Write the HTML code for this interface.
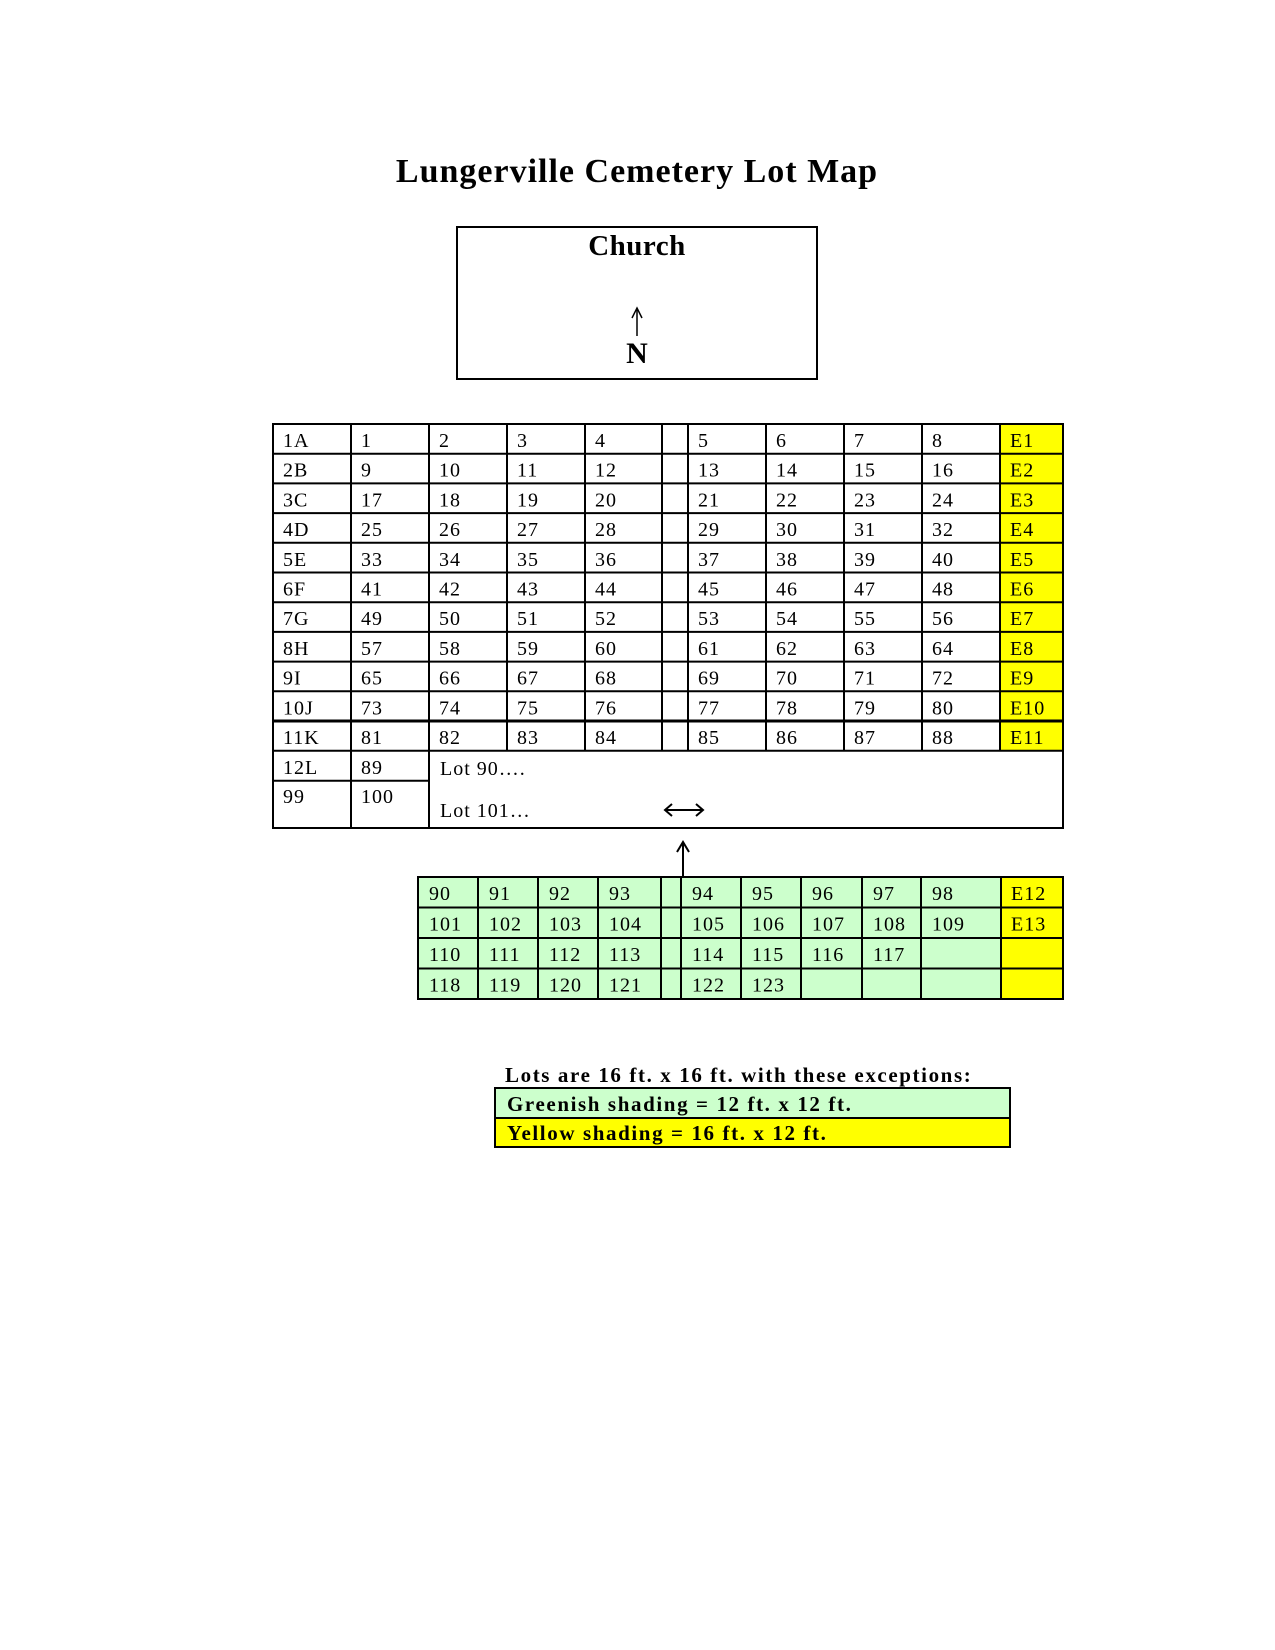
<!DOCTYPE html>
<html><head><meta charset="utf-8"><style>
html,body{margin:0;padding:0;background:#fff;}
svg{display:block;}
text{font-family:"Liberation Serif",serif;}
.t{font-size:20px;letter-spacing:1px;}
.b{font-weight:bold;}
</style></head><body>
<svg width="1275" height="1650" viewBox="0 0 1275 1650" xmlns="http://www.w3.org/2000/svg">
<text x="637" y="182" class="b" font-size="34" letter-spacing="1" text-anchor="middle">Lungerville Cemetery Lot Map</text>
<rect x="457" y="227" width="360" height="152" fill="none" stroke="#000" stroke-width="2"/>
<text x="637" y="255" class="b" font-size="29" letter-spacing="0.5" text-anchor="middle">Church</text>
<line x1="637" y1="310" x2="637" y2="336" stroke="#000" stroke-width="1.5"/>
<path d="M632 318 L637 308 L642 318" fill="none" stroke="#000" stroke-width="1.5"/>
<text x="637" y="363" class="b" font-size="30" text-anchor="middle">N</text>

<rect x="1000" y="424" width="63" height="326.7" fill="#ffff00"/>
<g stroke="#000" stroke-width="2" fill="none">
<rect x="273" y="424" width="790" height="404"/>
<line x1="273" y1="453.7" x2="1063" y2="453.7"/>
<line x1="273" y1="483.4" x2="1063" y2="483.4"/>
<line x1="273" y1="513.1" x2="1063" y2="513.1"/>
<line x1="273" y1="542.8" x2="1063" y2="542.8"/>
<line x1="273" y1="572.5" x2="1063" y2="572.5"/>
<line x1="273" y1="602.2" x2="1063" y2="602.2"/>
<line x1="273" y1="631.9" x2="1063" y2="631.9"/>
<line x1="273" y1="661.6" x2="1063" y2="661.6"/>
<line x1="273" y1="691.3" x2="1063" y2="691.3"/>
<line x1="273" y1="721" x2="1063" y2="721" stroke-width="3"/>
<line x1="273" y1="750.7" x2="1063" y2="750.7"/>
<line x1="273" y1="780.7" x2="429" y2="780.7"/>
<line x1="351" y1="424" x2="351" y2="828"/>
<line x1="429" y1="424" x2="429" y2="828"/>
<line x1="507" y1="424" x2="507" y2="750.7"/>
<line x1="585" y1="424" x2="585" y2="750.7"/>
<line x1="662" y1="424" x2="662" y2="750.7"/>
<line x1="688" y1="424" x2="688" y2="750.7"/>
<line x1="766" y1="424" x2="766" y2="750.7"/>
<line x1="844" y1="424" x2="844" y2="750.7"/>
<line x1="922" y1="424" x2="922" y2="750.7"/>
<line x1="1000" y1="424" x2="1000" y2="750.7"/>
</g>
<g class="t">
<text x="283" y="447">1A</text><text x="361" y="447">1</text><text x="439" y="447">2</text><text x="517" y="447">3</text><text x="595" y="447">4</text><text x="698" y="447">5</text><text x="776" y="447">6</text><text x="854" y="447">7</text><text x="932" y="447">8</text><text x="1010" y="447">E1</text>
<text x="283" y="476.7">2B</text><text x="361" y="476.7">9</text><text x="439" y="476.7">10</text><text x="517" y="476.7">11</text><text x="595" y="476.7">12</text><text x="698" y="476.7">13</text><text x="776" y="476.7">14</text><text x="854" y="476.7">15</text><text x="932" y="476.7">16</text><text x="1010" y="476.7">E2</text>
<text x="283" y="506.4">3C</text><text x="361" y="506.4">17</text><text x="439" y="506.4">18</text><text x="517" y="506.4">19</text><text x="595" y="506.4">20</text><text x="698" y="506.4">21</text><text x="776" y="506.4">22</text><text x="854" y="506.4">23</text><text x="932" y="506.4">24</text><text x="1010" y="506.4">E3</text>
<text x="283" y="536.1">4D</text><text x="361" y="536.1">25</text><text x="439" y="536.1">26</text><text x="517" y="536.1">27</text><text x="595" y="536.1">28</text><text x="698" y="536.1">29</text><text x="776" y="536.1">30</text><text x="854" y="536.1">31</text><text x="932" y="536.1">32</text><text x="1010" y="536.1">E4</text>
<text x="283" y="565.8">5E</text><text x="361" y="565.8">33</text><text x="439" y="565.8">34</text><text x="517" y="565.8">35</text><text x="595" y="565.8">36</text><text x="698" y="565.8">37</text><text x="776" y="565.8">38</text><text x="854" y="565.8">39</text><text x="932" y="565.8">40</text><text x="1010" y="565.8">E5</text>
<text x="283" y="595.5">6F</text><text x="361" y="595.5">41</text><text x="439" y="595.5">42</text><text x="517" y="595.5">43</text><text x="595" y="595.5">44</text><text x="698" y="595.5">45</text><text x="776" y="595.5">46</text><text x="854" y="595.5">47</text><text x="932" y="595.5">48</text><text x="1010" y="595.5">E6</text>
<text x="283" y="625.2">7G</text><text x="361" y="625.2">49</text><text x="439" y="625.2">50</text><text x="517" y="625.2">51</text><text x="595" y="625.2">52</text><text x="698" y="625.2">53</text><text x="776" y="625.2">54</text><text x="854" y="625.2">55</text><text x="932" y="625.2">56</text><text x="1010" y="625.2">E7</text>
<text x="283" y="654.9">8H</text><text x="361" y="654.9">57</text><text x="439" y="654.9">58</text><text x="517" y="654.9">59</text><text x="595" y="654.9">60</text><text x="698" y="654.9">61</text><text x="776" y="654.9">62</text><text x="854" y="654.9">63</text><text x="932" y="654.9">64</text><text x="1010" y="654.9">E8</text>
<text x="283" y="684.6">9I</text><text x="361" y="684.6">65</text><text x="439" y="684.6">66</text><text x="517" y="684.6">67</text><text x="595" y="684.6">68</text><text x="698" y="684.6">69</text><text x="776" y="684.6">70</text><text x="854" y="684.6">71</text><text x="932" y="684.6">72</text><text x="1010" y="684.6">E9</text>
<text x="283" y="714.3">10J</text><text x="361" y="714.3">73</text><text x="439" y="714.3">74</text><text x="517" y="714.3">75</text><text x="595" y="714.3">76</text><text x="698" y="714.3">77</text><text x="776" y="714.3">78</text><text x="854" y="714.3">79</text><text x="932" y="714.3">80</text><text x="1010" y="714.3">E10</text>
<text x="283" y="744">11K</text><text x="361" y="744">81</text><text x="439" y="744">82</text><text x="517" y="744">83</text><text x="595" y="744">84</text><text x="698" y="744">85</text><text x="776" y="744">86</text><text x="854" y="744">87</text><text x="932" y="744">88</text><text x="1010" y="744">E11</text>
<text x="283" y="774">12L</text><text x="361" y="774">89</text><text x="440" y="775">Lot 90….</text>
<text x="283" y="803">99</text><text x="361" y="803">100</text><text x="440" y="817">Lot 101…</text>
</g>
<g stroke="#000" stroke-width="2" fill="none">
<line x1="666" y1="810" x2="702" y2="810"/>
<path d="M672 804 L665 810 L672 816"/>
<path d="M696 804 L703 810 L696 816"/>
</g>
<line x1="683" y1="844" x2="683" y2="877" stroke="#000" stroke-width="2"/>
<path d="M677 852 L683 842 L689 852" fill="none" stroke="#000" stroke-width="2"/>

<rect x="418" y="877" width="583" height="122" fill="#ccffcc"/>
<rect x="1001" y="877" width="62" height="122" fill="#ffff00"/>
<g stroke="#000" stroke-width="2" fill="none">
<rect x="418" y="877" width="645" height="122"/>
<line x1="418" y1="907.5" x2="1063" y2="907.5"/>
<line x1="418" y1="938" x2="1063" y2="938"/>
<line x1="418" y1="968.5" x2="1063" y2="968.5"/>
<line x1="478" y1="877" x2="478" y2="999"/>
<line x1="538" y1="877" x2="538" y2="999"/>
<line x1="598" y1="877" x2="598" y2="999"/>
<line x1="661" y1="877" x2="661" y2="999"/>
<line x1="681" y1="877" x2="681" y2="999"/>
<line x1="741" y1="877" x2="741" y2="999"/>
<line x1="801" y1="877" x2="801" y2="999"/>
<line x1="862" y1="877" x2="862" y2="999"/>
<line x1="921" y1="877" x2="921" y2="999"/>
<line x1="1001" y1="877" x2="1001" y2="999"/>
</g>
<g class="t">
<text x="429" y="900">90</text><text x="489" y="900">91</text><text x="549" y="900">92</text><text x="609" y="900">93</text><text x="692" y="900">94</text><text x="752" y="900">95</text><text x="812" y="900">96</text><text x="873" y="900">97</text><text x="932" y="900">98</text><text x="1011" y="900">E12</text>
<text x="429" y="930.5">101</text><text x="489" y="930.5">102</text><text x="549" y="930.5">103</text><text x="609" y="930.5">104</text><text x="692" y="930.5">105</text><text x="752" y="930.5">106</text><text x="812" y="930.5">107</text><text x="873" y="930.5">108</text><text x="932" y="930.5">109</text><text x="1011" y="930.5">E13</text>
<text x="429" y="961">110</text><text x="489" y="961">111</text><text x="549" y="961">112</text><text x="609" y="961">113</text><text x="692" y="961">114</text><text x="752" y="961">115</text><text x="812" y="961">116</text><text x="873" y="961">117</text>
<text x="429" y="991.5">118</text><text x="489" y="991.5">119</text><text x="549" y="991.5">120</text><text x="609" y="991.5">121</text><text x="692" y="991.5">122</text><text x="752" y="991.5">123</text>
</g>

<text x="505" y="1082" class="b" font-size="21" letter-spacing="1.6">Lots are 16 ft. x 16 ft. with these exceptions:</text>
<rect x="495" y="1088" width="515" height="30" fill="#ccffcc"/>
<rect x="495" y="1118" width="515" height="29" fill="#ffff00"/>
<g stroke="#000" stroke-width="2" fill="none">
<rect x="495" y="1088" width="515" height="59"/>
<line x1="495" y1="1118" x2="1010" y2="1118"/>
</g>
<text x="507" y="1111" class="b" font-size="21" letter-spacing="1.6">Greenish shading = 12 ft. x 12 ft.</text>
<text x="507" y="1140" class="b" font-size="21" letter-spacing="1.6">Yellow shading = 16 ft. x 12 ft.</text>
</svg>
</body></html>
